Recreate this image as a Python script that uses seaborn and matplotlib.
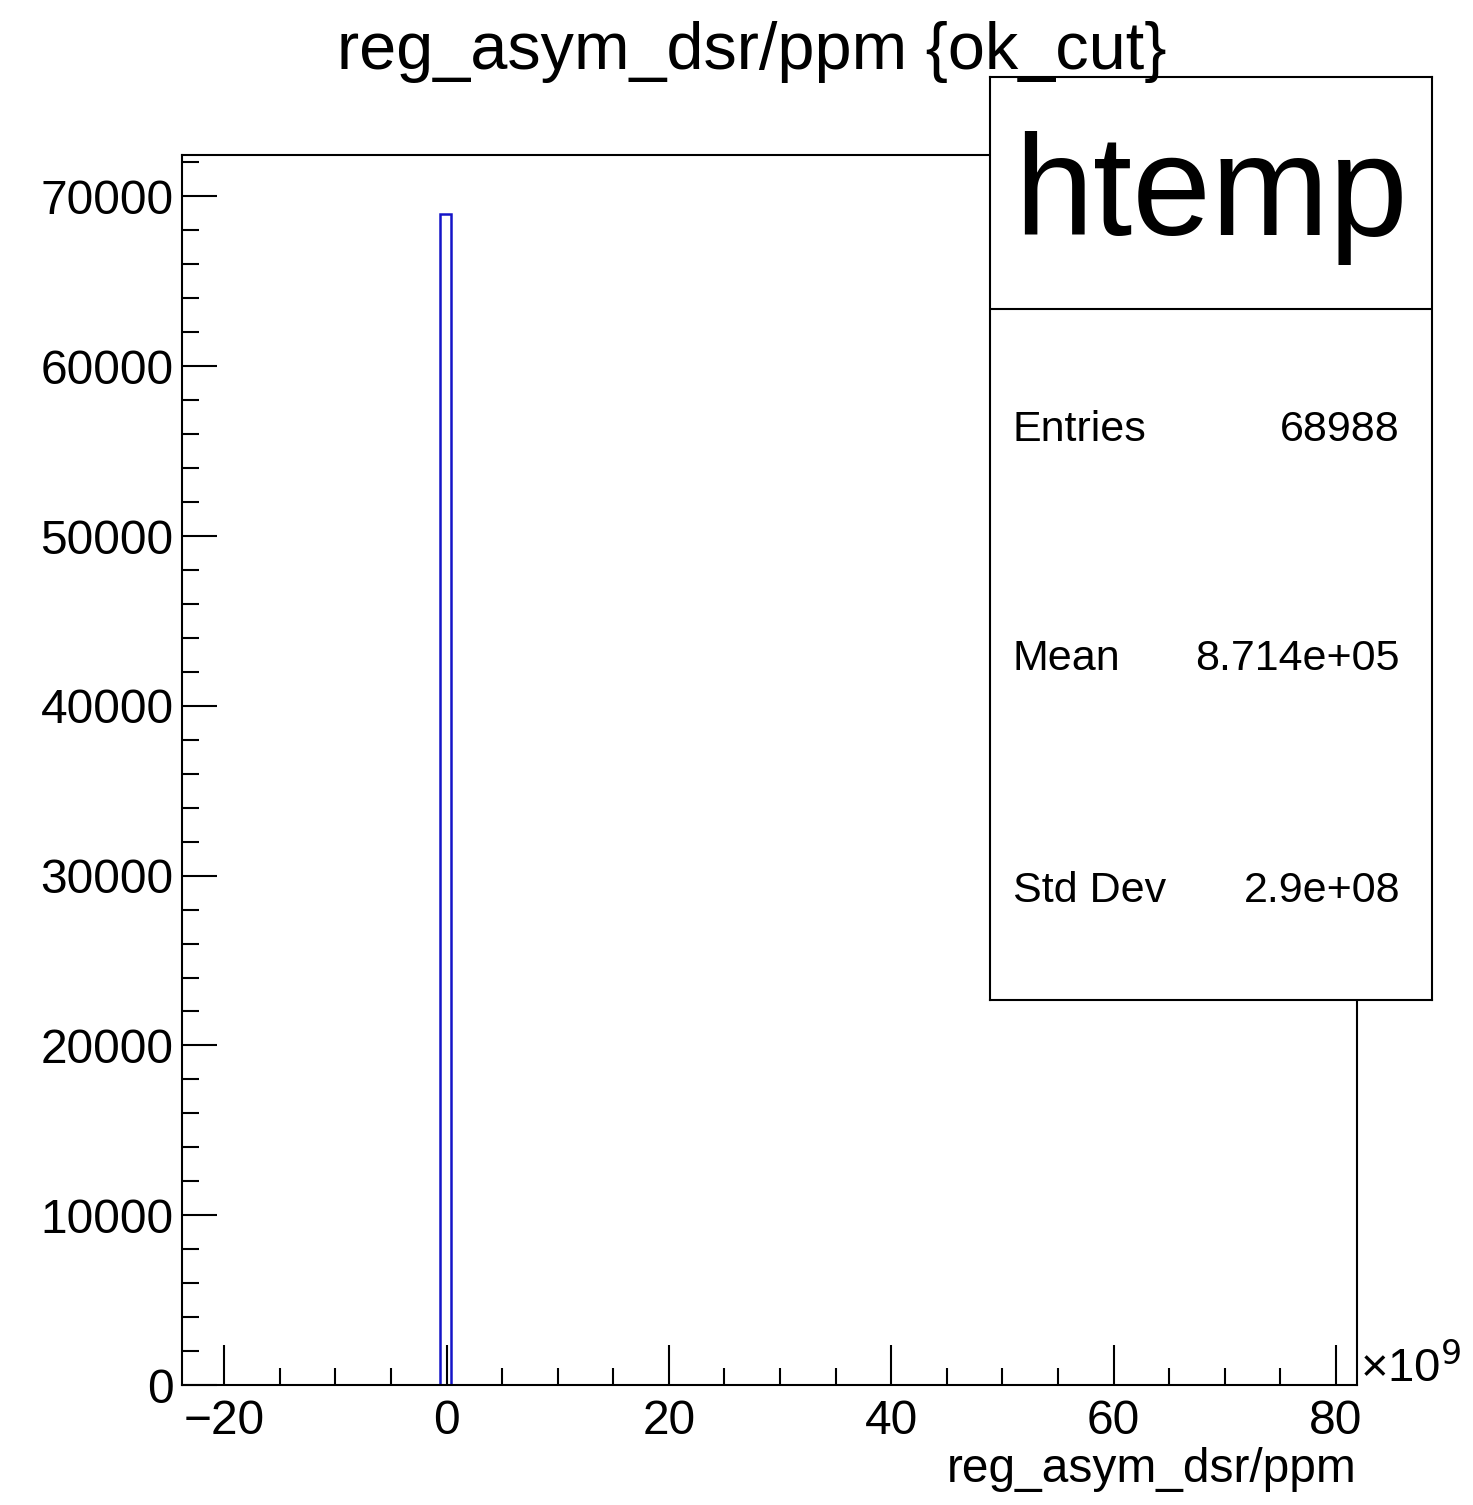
import matplotlib
matplotlib.use("Agg")
import matplotlib.pyplot as plt
import seaborn as sns
from matplotlib.ticker import MultipleLocator

# histogram content (x in units of 1e9 ppm)
bin_edges = [-0.62, 0.42]
bin_counts = [68988]
x_range = [-23.8, 81.9]
y_max = 72437

stat_labels = ['Entries', 'Mean', 'Std Dev']
stat_values = ['68988', '8.714e+05', '2.9e+08']

sns.set_style('white')
plt.rcParams['font.family'] = ['Liberation Sans', 'DejaVu Sans']
plt.rcParams['text.color'] = 'black'
plt.rcParams['xtick.color'] = 'black'
plt.rcParams['ytick.color'] = 'black'
plt.rcParams['axes.labelcolor'] = 'black'

fig = plt.figure(figsize=(14.73, 15.05), dpi=100)
ax = fig.add_axes([0.1236, 0.0797, 0.7976, 0.8173])

centers = [(bin_edges[i] + bin_edges[i + 1]) / 2 for i in range(len(bin_counts))]
sns.histplot(x=centers, weights=bin_counts, bins=bin_edges, element='bars',
             fill=False, color='#1414c8', linewidth=1.8, ax=ax)

ax.set_xlim(*x_range)
ax.set_ylim(0, y_max)
ax.set_ylabel('')
ax.set_xlabel('')
for s in ax.spines.values():
    s.set_visible(True)
    s.set_color('black')
    s.set_linewidth(1.5)

ax.xaxis.set_major_locator(MultipleLocator(20))
ax.xaxis.set_minor_locator(MultipleLocator(5))
ax.yaxis.set_major_locator(MultipleLocator(10000))
ax.yaxis.set_minor_locator(MultipleLocator(2000))
ax.tick_params(axis='x', which='major', direction='in', length=29, width=1.5,
               labelsize=34.5, pad=10, bottom=True)
ax.tick_params(axis='x', which='minor', direction='in', length=12, width=1.5, bottom=True)
ax.tick_params(axis='y', which='major', direction='in', length=25, width=1.5,
               labelsize=34.5, pad=6, left=True)
ax.tick_params(axis='y', which='minor', direction='in', length=12, width=1.5, left=True)
ax.xaxis.set_major_formatter(lambda v, p: f'{v:.0f}'.replace('-', '\u2212'))

fig.text(1360 / 1473, 1 - 1368 / 1505, '\u00d710$^{9}$', fontsize=34,
         ha='left', va='center')
fig.text(1357 / 1473, 1 - 1470 / 1505, 'reg_asym_dsr/ppm', fontsize=34.5,
         ha='right', va='center')
fig.text(752 / 1473, 1 - 52 / 1505, 'reg_asym_dsr/ppm {ok_cut}', fontsize=48,
         ha='center', va='center')

# stats box
sb = fig.add_axes([990 / 1473, 1 - 1000 / 1505, 442 / 1473, 923 / 1505])
sb.set_xlim(0, 1)
sb.set_ylim(0, 1)
sb.set_xticks([])
sb.set_yticks([])
sb.set_facecolor('white')
for s in sb.spines.values():
    s.set_visible(True)
    s.set_color('black')
    s.set_linewidth(1.5)
div = (1000 - 309) / 923
sb.axhline(div, color='black', linewidth=1.5)
sb.text(0.5, (1000 - 198) / 923, 'htemp', fontsize=102, ha='center', va='center')
rows_y = [430, 659, 891]
for lab, val, yy in zip(stat_labels, stat_values, rows_y):
    sb.text(23 / 442, (1000 - yy) / 923, lab, fontsize=31, ha='left', va='center')
    sb.text(410 / 442, (1000 - yy) / 923, val, fontsize=31, ha='right', va='center')

fig.savefig('out.png', dpi=100)
